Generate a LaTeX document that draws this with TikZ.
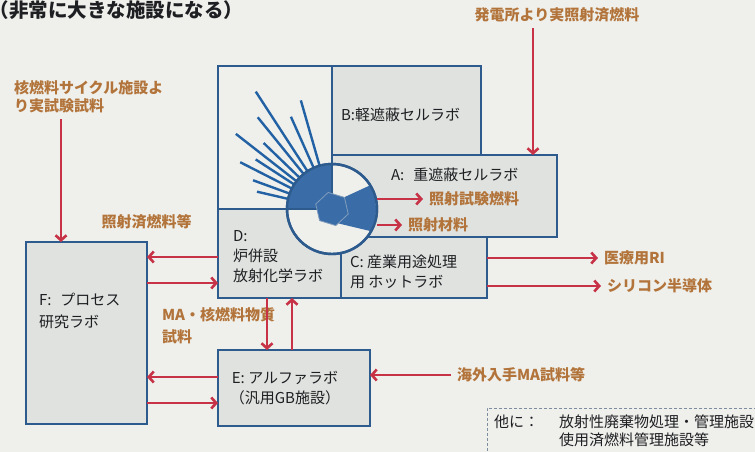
\documentclass[tikz,border=0pt]{standalone}
\usepackage{fontspec}
\setmainfont{Noto Sans CJK JP}
\usetikzlibrary{positioning,arrows.meta}
\definecolor{Paper}{HTML}{EFF0EC}
\definecolor{RoomGray}{HTML}{E0E2E0}
\definecolor{WallBlue}{HTML}{2D5B8E}
\definecolor{CellBlue}{HTML}{3A6CA8}
\definecolor{RayBlue}{HTML}{2262A4}
\definecolor{FlowRed}{HTML}{C73246}
\definecolor{NoteBrown}{HTML}{B2743A}
\definecolor{InkBlack}{HTML}{1E1F22}
\definecolor{DashGray}{HTML}{7D8C9E}
\newcommand{\labsize}{\fontsize{15}{20}\selectfont}

\begin{document}
\begin{tikzpicture}[x=1pt, y=-1pt,
    every node/.style={inner sep=0pt, outer sep=0pt, text=InkBlack, font=\labsize},
    room/.style={draw=WallBlue, fill=RoomGray, line width=2.2pt, anchor=north west},
    flow/.style={draw=FlowRed, line width=2.6pt, -{Straight Barb[length=5pt,width=11pt]}},
    feed/.style={text=NoteBrown, font=\labsize\bfseries, inner sep=6pt},
    ray/.style={draw=RayBlue, line width=2.4pt}]
  \useasboundingbox (0,0) rectangle (755,452);
  \clip (0,0) rectangle (755,452);
  \fill[Paper] (0,0) rectangle (755,452);

  % Title
  \node[anchor=west, font=\fontsize{19.5}{22}\selectfont\bfseries] (title) at (-10,10) {（非常に大きな施設になる）};

  % Rooms
  \node[room, fill=Paper, minimum width=114, minimum height=143] (shield) at (218,66) {};
  \node[room, minimum width=149, minimum height=89] (labB) at (332,66) {};
  \node[room, minimum width=225, minimum height=82] (labA) at (332,155) {};
  \node[room, minimum width=123, minimum height=89] (labD) at (218,209) {};
  \node[room, minimum width=146, minimum height=61] (labC) at (341,237) {};
  \node[room, minimum width=121, minimum height=182] (labF) at (26,242) {};
  \node[room, minimum width=152, minimum height=76] (labE) at (218,350) {};

  \node[anchor=west] (txtB) at (341,115) {B:軽遮蔽セルラボ};
  \node[anchor=west] (txtA) at (391,175) {A:\hspace{0.6em}重遮蔽セルラボ};
  \node[anchor=west, align=left] (txtD) at (233,257) {D:\\炉併設\\放射化学ラボ};
  \node[anchor=west, align=left] (txtC) at (350,272) {C: 産業用途処理\\用 ホットラボ};
  \node[anchor=west, align=left] (txtF) at (39,311) {F:\hspace{0.6em}プロセス\\[2pt]研究ラボ};
  \node[align=center] (txtE) at (285,388) {E: アルファラボ\\（汎用GB施設）};

  % Hot cell with its radiation rays
  \coordinate (core) at (332,209);
  \foreach \a/\l in {-123/140,-106/113,-129/118,-114/101,-142/122,-136/95,-153/103,-147/91,-160/84,-167/77}
    \draw[ray, shift={(core)}] (\a:40) -- (\a:\l);
  \node[circle, draw=WallBlue, fill=Paper, line width=2.4pt, minimum size=90] (cell) at (core) {};
  \fill[CellBlue, shift={(core)}] (0,0) -- (-90:44) arc[start angle=-90, end angle=-180, radius=44] -- cycle;
  \fill[CellBlue, shift={(core)}] (-45:16) -- (-32:44) arc[start angle=-32, end angle=30, radius=44] -- (65:16) -- cycle;
  \draw[WallBlue, line width=2.2pt] (cell.north) -- (core) -- (cell.west);
  \filldraw[fill=CellBlue, draw=WallBlue!60!white, line width=0.8pt, shift={(core)}]
    (17:17) -- (-43:17) -- (-103:17) -- (-163:17) -- (-223:17) -- (-283:17) -- cycle;
  \draw[WallBlue, line width=2.4pt] (core) circle[radius=45];

  % Material flows
  \node[feed] (plant) at (557,15) {発電所より実照射済燃料};
  \node[feed, anchor=west, align=left, font=\fontsize{15}{18}\selectfont\bfseries] (cycle) at (8,97) {核燃料サイクル施設よ\\り実試験試料};
  \node[feed] (spent) at (146.5,222) {照射済燃料等};
  \node[feed, anchor=west, align=left] (masample) at (156,326) {MA・核燃料物質\\[2pt]試料};
  \node[feed, anchor=west] (fuelout) at (423,199) {照射試験燃料};
  \node[feed, anchor=west] (matout) at (402,225) {照射材料};
  \node[feed, anchor=west] (medri) at (598,258) {医療用RI};
  \node[feed, anchor=west] (silicon) at (601,286) {シリコン半導体};
  \node[feed, anchor=west] (abroad) at (451,375) {海外入手MA試料等};

  \draw[flow] ([xshift=-24pt]plant.south) -- ([xshift=-24pt]plant.south |- labA.north);
  \draw[flow] ([xshift=-25.5pt]labF.north |- cycle.south) -- ([xshift=-25.5pt]labF.north);
  \draw[flow] (cell.east |- fuelout) -- (fuelout);
  \draw[flow] (cell.east |- matout) -- (matout);
  \draw[flow] (labC.east |- medri) -- (medri);
  \draw[flow] (labC.east |- silicon) -- (silicon);
  \draw[flow] (abroad) -- (labE.east |- abroad);
  \draw[flow] ([yshift=-3.5pt]labD.west) -- ([yshift=-3.5pt]labD.west -| labF.east);
  \draw[flow] ([yshift=-29.5pt]labD.west -| labF.east) -- ([yshift=-29.5pt]labD.west);
  \draw[flow] ([yshift=11pt]labE.west) -- ([yshift=11pt]labE.west -| labF.east);
  \draw[flow] ([yshift=-15pt]labE.west -| labF.east) -- ([yshift=-15pt]labE.west);
  \draw[flow] ([xshift=-12.5pt]labD.south) -- ([xshift=-12.5pt]labD.south |- labE.north);
  \draw[flow] ([xshift=12.5pt]labD.south |- labE.north) -- ([xshift=12.5pt]labD.south);

  % Other facilities
  \node[draw=DashGray, dash pattern=on 3pt off 2pt, line width=1pt, anchor=north west,
        minimum width=290, minimum height=70] (others) at (487,408) {};
  \node[anchor=west] (otherhead) at (494,422) {他に：};
  \node[anchor=west, align=left, font=\fontsize{15}{18}\selectfont] (otherlist) at (559,431) {放射性廃棄物処理・管理施設\\使用済燃料管理施設等};
\end{tikzpicture}
\end{document}
